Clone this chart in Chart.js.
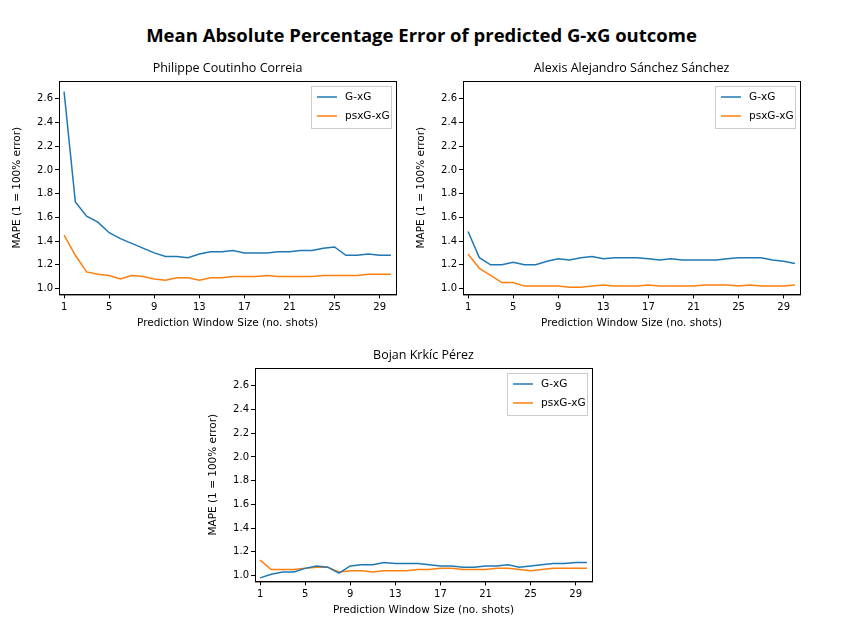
<!DOCTYPE html>
<html><head><meta charset="utf-8">
<script src="https://cdn.jsdelivr.net/npm/chart.js@4"></script>
<style>
body{margin:0;background:#fff;width:843px;height:621px;position:relative;font-family:"DejaVu Sans",sans-serif}
#title{position:absolute;top:22px;left:0;width:843px;text-align:center;font-family:"Open Sans",sans-serif;font-weight:bold;font-size:18.5px;color:#000}
.box{position:absolute;width:392px;height:278px}
</style></head><body>
<div id="title">Mean Absolute Percentage Error of predicted G-xG outcome</div>
<div class="box" style="left:11px;top:56px"><canvas id="c1"></canvas></div>
<div class="box" style="left:415px;top:56px"><canvas id="c2"></canvas></div>
<div class="box" style="left:207px;top:343px"><canvas id="c3"></canvas></div>
<script>
const windowSizes = Array.from({length: 30}, (_, i) => i + 1);
const xTicks = [1, 5, 9, 13, 17, 21, 25, 29];
const yTicks = [1.0, 1.2, 1.4, 1.6, 1.8, 2.0, 2.2, 2.4, 2.6];

const coutinhoG = [2.66,1.73,1.61,1.56,1.47,1.42,1.38,1.34,1.30,1.27,1.27,1.26,1.29,1.31,1.31,1.32,1.30,1.30,1.30,1.31,1.31,1.32,1.32,1.34,1.35,1.28,1.28,1.29,1.28,1.28];
const coutinhoPsx = [1.45,1.28,1.14,1.12,1.11,1.08,1.11,1.10,1.08,1.07,1.09,1.09,1.07,1.09,1.09,1.10,1.10,1.10,1.11,1.10,1.10,1.10,1.10,1.11,1.11,1.11,1.11,1.12,1.12,1.12];
const sanchezG = [1.48,1.26,1.20,1.20,1.22,1.20,1.20,1.23,1.25,1.24,1.26,1.27,1.25,1.26,1.26,1.26,1.25,1.24,1.25,1.24,1.24,1.24,1.24,1.25,1.26,1.26,1.26,1.24,1.23,1.21];
const sanchezPsx = [1.29,1.17,1.11,1.05,1.05,1.02,1.02,1.02,1.02,1.01,1.01,1.02,1.03,1.02,1.02,1.02,1.03,1.02,1.02,1.02,1.02,1.03,1.03,1.03,1.02,1.03,1.02,1.02,1.02,1.03];
const krkicG = [0.98,1.01,1.03,1.03,1.06,1.08,1.07,1.02,1.08,1.09,1.09,1.11,1.10,1.10,1.10,1.09,1.08,1.08,1.07,1.07,1.08,1.08,1.09,1.07,1.08,1.09,1.10,1.10,1.11,1.11];
const krkicPsx = [1.13,1.05,1.05,1.05,1.06,1.07,1.07,1.03,1.04,1.04,1.03,1.04,1.04,1.04,1.05,1.05,1.06,1.06,1.05,1.05,1.05,1.06,1.06,1.05,1.04,1.05,1.06,1.06,1.06,1.06];

const BLUE = '#1f77b4', ORANGE = '#ff7f0e';
const FONT = '"DejaVu Sans", sans-serif';

// box around plot, subplot title over the plot area, matplotlib style legend
const framePlugin = {
  id: 'frame',
  afterDraw(chart, args, opts) {
    const { ctx, chartArea: a } = chart;
    ctx.save();
    ctx.strokeStyle = '#000'; ctx.lineWidth = 1;
    ctx.strokeRect(a.left + 0.5, a.top + 0.5, a.right - a.left, a.bottom - a.top);
    ctx.fillStyle = '#000'; ctx.font = '12.5px "Open Sans", sans-serif';
    ctx.textAlign = 'center'; ctx.textBaseline = 'middle';
    ctx.fillText(opts.text, (a.left + a.right) / 2, a.top - 13);
    ctx.textAlign = 'left';
    const w = 80, h = 42, x = a.right - w - 5, y = a.top + 5;
    ctx.strokeStyle = '#ccc'; ctx.fillStyle = 'rgba(255,255,255,0.85)';
    ctx.fillRect(x, y, w, h); ctx.strokeRect(x + 0.5, y + 0.5, w, h);
    ctx.font = '10.5px ' + FONT;
    chart.data.datasets.forEach((ds, i) => {
      const ly = y + 11 + i * 19;
      ctx.strokeStyle = ds.borderColor; ctx.lineWidth = 1.5;
      ctx.beginPath(); ctx.moveTo(x + 6, ly); ctx.lineTo(x + 26, ly); ctx.stroke();
      ctx.fillStyle = '#000'; ctx.fillText(ds.label, x + 34, ly);
    });
    ctx.restore();
  }
};

function makeChart(id, title, g, psx) {
  new Chart(document.getElementById(id), {
    type: 'line',
    data: {
      datasets: [
        { label: 'G-xG', data: windowSizes.map((x, i) => ({ x, y: g[i] })), borderColor: BLUE, borderWidth: 1.5, pointRadius: 0, tension: 0 },
        { label: 'psxG-xG', data: windowSizes.map((x, i) => ({ x, y: psx[i] })), borderColor: ORANGE, borderWidth: 1.5, pointRadius: 0, tension: 0 }
      ]
    },
    options: {
      responsive: true, maintainAspectRatio: false, animation: false,
      layout: { padding: { right: 7, top: 25, bottom: 0, left: 0 } },
      plugins: {
        legend: { display: false }, tooltip: { enabled: false }, title: { display: false },
        frame: { text: title }
      },
      scales: {
        x: {
          type: 'linear', min: 0.55, max: 30.45,
          afterDataLimits: s => { s.min = 0.55; s.max = 30.45; },
          afterBuildTicks: s => { s.ticks = xTicks.map(v => ({ value: v })); },
          grid: { drawOnChartArea: false, drawTicks: true, tickLength: 4, color: '#000' },
          border: { color: '#000' },
          ticks: { color: '#000', font: { family: FONT, size: 10 }, maxRotation: 0, padding: 3 },
          title: { display: true, text: 'Prediction Window Size (no. shots)', color: '#000', font: { family: FONT, size: 10.5 }, padding: { top: 1 } }
        },
        y: {
          min: 0.95, max: 2.75,
          afterDataLimits: s => { s.min = 0.95; s.max = 2.75; },
          afterBuildTicks: s => { s.ticks = yTicks.map(v => ({ value: v })); },
          afterFit: s => { s.width = 48; },
          grid: { drawOnChartArea: false, drawTicks: true, tickLength: 4, color: '#000' },
          border: { color: '#000' },
          ticks: { color: '#000', font: { family: FONT, size: 10 }, padding: 2, callback: v => v.toFixed(1) },
          title: { display: true, text: 'MAPE (1 = 100% error)', color: '#000', font: { family: FONT, size: 10.5 }, padding: 0 }
        }
      }
    },
    plugins: [framePlugin]
  });
}

makeChart('c1', 'Philippe Coutinho Correia', coutinhoG, coutinhoPsx);
makeChart('c2', 'Alexis Alejandro Sánchez Sánchez', sanchezG, sanchezPsx);
makeChart('c3', 'Bojan Krkíc Pérez', krkicG, krkicPsx);
</script>
</body></html>
